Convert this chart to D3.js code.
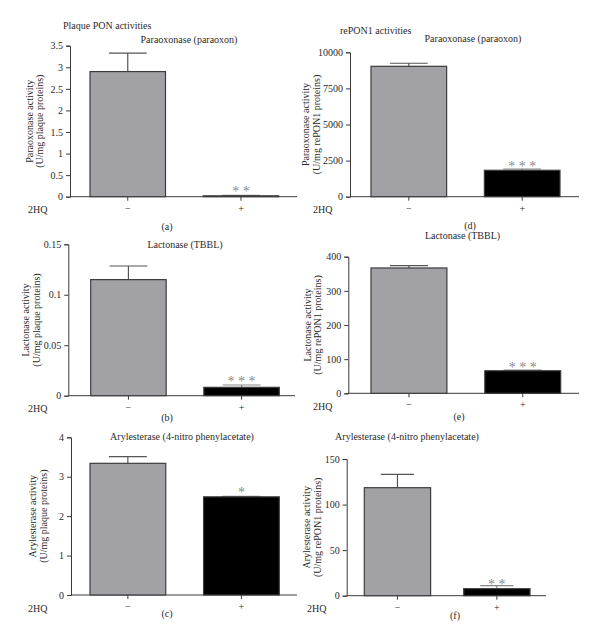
<!DOCTYPE html>
<html><head><meta charset="utf-8">
<script src="https://cdn.jsdelivr.net/npm/d3@7"></script>
<style>
body{margin:0;background:#fff;}
svg text{font-family:"Liberation Serif","DejaVu Serif",serif;fill:#2a2a2a;}
</style></head>
<body><svg id="c" width="600" height="641"></svg>
<script>
// ---- data ----
const categories = ["−", "+"];
const panelLetters = ["(a)", "(b)", "(c)", "(d)", "(e)", "(f)"];
const titles = ["Paraoxonase (paraoxon)", "Lactonase (TBBL)", "Arylesterase (4-nitro phenylacetate)",
                "Paraoxonase (paraoxon)", "Lactonase (TBBL)", "Arylesterase (4-nitro phenylacetate)"];
const yLabelLine1 = ["Paraoxonase activity", "Lactonase activity", "Arylesterase activity",
                     "Paraoxonase activity", "Lactonase activity", "Arylesterase activity"];
const yLabelLine2 = ["(U/mg plaque proteins)", "(U/mg plaque proteins)", "(U/mg plaque proteins)",
                     "(U/mg rePON1 proteins)", "(U/mg rePON1 proteins)", "(U/mg rePON1 proteins)"];
const sectionTitles = ["Plaque PON activities", "rePON1 activities"];
const means = [[2.9, 0.02], [0.115, 0.0083], [3.34, 2.49], [9030, 1830], [367, 66], [118.5, 7.7]];
const errors = [[0.43, 0.01], [0.0135, 0.0023], [0.17, 0.01], [210, 90], [7, 2], [14.7, 3.3]];
const significance = ["* *", "* * *", "*", "* * *", "* * *", "* *"];
const yMax = [3.5, 0.15, 4, 10000, 400, 150];
const yTicks = [[0, 0.5, 1, 1.5, 2, 2.5, 3, 3.5], [0, 0.05, 0.1, 0.15], [0, 1, 2, 3, 4],
                [0, 2500, 5000, 7500, 10000], [0, 100, 200, 300, 400], [0, 50, 100, 150]];
const groupLabel = "2HQ";

// ---- layout (pixels) ----
const layout = [
  {ax:70,  bl:90,  br:278.7, ae:297, yt:45.7,  y0:196.7, lab1:29,  lab2:39.5, tx:189, ty:39,  px:167, py:226, hq:28,  starY:189},
  {ax:68.3,bl:90.7,br:279.3, ae:295, yt:244.3, y0:395.7, lab1:25.5,lab2:36.5, tx:185, ty:244, px:167, py:417, hq:28,  starY:379.5},
  {ax:71,  bl:90,  br:279.3, ae:297, yt:437.3, y0:595,   lab1:32,  lab2:43,   tx:182, ty:436, px:167, py:613, hq:28,  starY:490},
  {ax:350, bl:371, br:560,   ae:579, yt:52.3,  y0:196.7, lab1:305, lab2:316,  tx:473, ty:38,  px:470, py:225, hq:313, starY:164},
  {ax:348.3,bl:371,br:560.7, ae:579, yt:256.7, y0:393.3, lab1:307, lab2:317.5,tx:462.5,ty:235, px:459, py:416, hq:313, starY:365},
  {ax:346.7,bl:364.3,br:530, ae:546, yt:459,   y0:595.7, lab1:306, lab2:317,  tx:407, ty:436, px:455, py:615, hq:307, starY:582.5}
];
const sectionPos = [{x:63, y:25}, {x:340, y:30.7}];

const svg = d3.select("#c");
const fs = 10;
const axisColor = "#3a3a3a";
const fills = ["#a2a1a6", "#000000"];

sectionTitles.forEach((t, i) => {
  svg.append("text").attr("x", sectionPos[i].x).attr("y", sectionPos[i].y)
    .attr("dy", "0.35em").attr("font-size", fs).text(t);
});

layout.forEach((L, i) => {
  const g = svg.append("g");
  const x = d3.scaleBand().domain(categories).range([L.bl, L.br]).paddingInner(0.333).paddingOuter(0);
  const y = d3.scaleLinear().domain([0, yMax[i]]).range([L.y0, L.yt]);

  // y axis
  const yAx = g.append("g").attr("transform", `translate(${L.ax},0)`)
    .call(d3.axisLeft(y).tickValues(yTicks[i]).tickSize(4).tickPadding(3).tickFormat(d => String(d)));
  yAx.selectAll("path,line").attr("stroke", axisColor).attr("stroke-width", 1);
  yAx.selectAll("text").attr("font-size", fs).attr("font-family", '"Liberation Serif",serif').attr("fill", "#2a2a2a");

  // x axis
  const xAx = g.append("g").attr("transform", `translate(0,${L.y0})`)
    .call(d3.axisBottom(x).tickSize(4).tickPadding(4));
  xAx.select(".domain").remove();
  xAx.selectAll("line").attr("stroke", axisColor);
  xAx.selectAll("text").attr("font-size", fs).attr("font-family", '"Liberation Serif",serif').attr("fill", "#2a2a2a");
  g.append("line").attr("x1", L.ax).attr("x2", L.ae).attr("y1", L.y0).attr("y2", L.y0)
    .attr("stroke", axisColor).attr("stroke-width", 1);

  // error bars (behind bars)
  categories.forEach((c, j) => {
    const cx = x(c) + x.bandwidth() / 2;
    const top = y(means[i][j] + errors[i][j]);
    g.append("line").attr("x1", cx).attr("x2", cx).attr("y1", y(means[i][j])).attr("y2", top)
      .attr("stroke", j === 0 ? "#555" : "#888").attr("stroke-width", 1.2);
    g.append("line").attr("x1", cx - x.bandwidth() / 4).attr("x2", cx + x.bandwidth() / 4)
      .attr("y1", top).attr("y2", top).attr("stroke", j === 0 ? "#555" : "#888").attr("stroke-width", 1.2);
  });

  // bars
  g.selectAll("rect.bar").data(categories).enter().append("rect")
    .attr("x", c => x(c))
    .attr("width", x.bandwidth())
    .attr("y", (c, j) => y(means[i][j]))
    .attr("height", (c, j) => L.y0 - y(means[i][j]))
    .attr("fill", (c, j) => fills[j])
    .attr("stroke", "#3c3c3c").attr("stroke-width", 1.2);

  // significance
  g.append("text").attr("x", x("+") + x.bandwidth() / 2).attr("y", L.starY + 6.5)
    .attr("text-anchor", "middle").attr("font-size", 14).style("fill", "#8a8a8a").text(significance[i]);

  // title
  g.append("text").attr("x", L.tx).attr("y", L.ty).attr("dy", "0.35em").attr("text-anchor", "middle")
    .attr("font-size", fs).text(titles[i]);

  // y labels
  const cy = (L.y0 + L.yt) / 2;
  [[yLabelLine1[i], L.lab1], [yLabelLine2[i], L.lab2]].forEach(([t, lx]) => {
    g.append("text").attr("transform", `translate(${lx},${cy}) rotate(-90)`)
      .attr("text-anchor", "middle").attr("dy", "0.35em").attr("font-size", fs).text(t);
  });

  // 2HQ
  g.append("text").attr("x", L.hq).attr("y", L.y0 + 13).attr("dy", "0.35em").attr("font-size", fs).text(groupLabel);

  // panel letter
  g.append("text").attr("x", L.px).attr("y", L.py).attr("dy", "0.35em").attr("text-anchor", "middle")
    .attr("font-size", fs).text(panelLetters[i]);
});
</script></body></html>
